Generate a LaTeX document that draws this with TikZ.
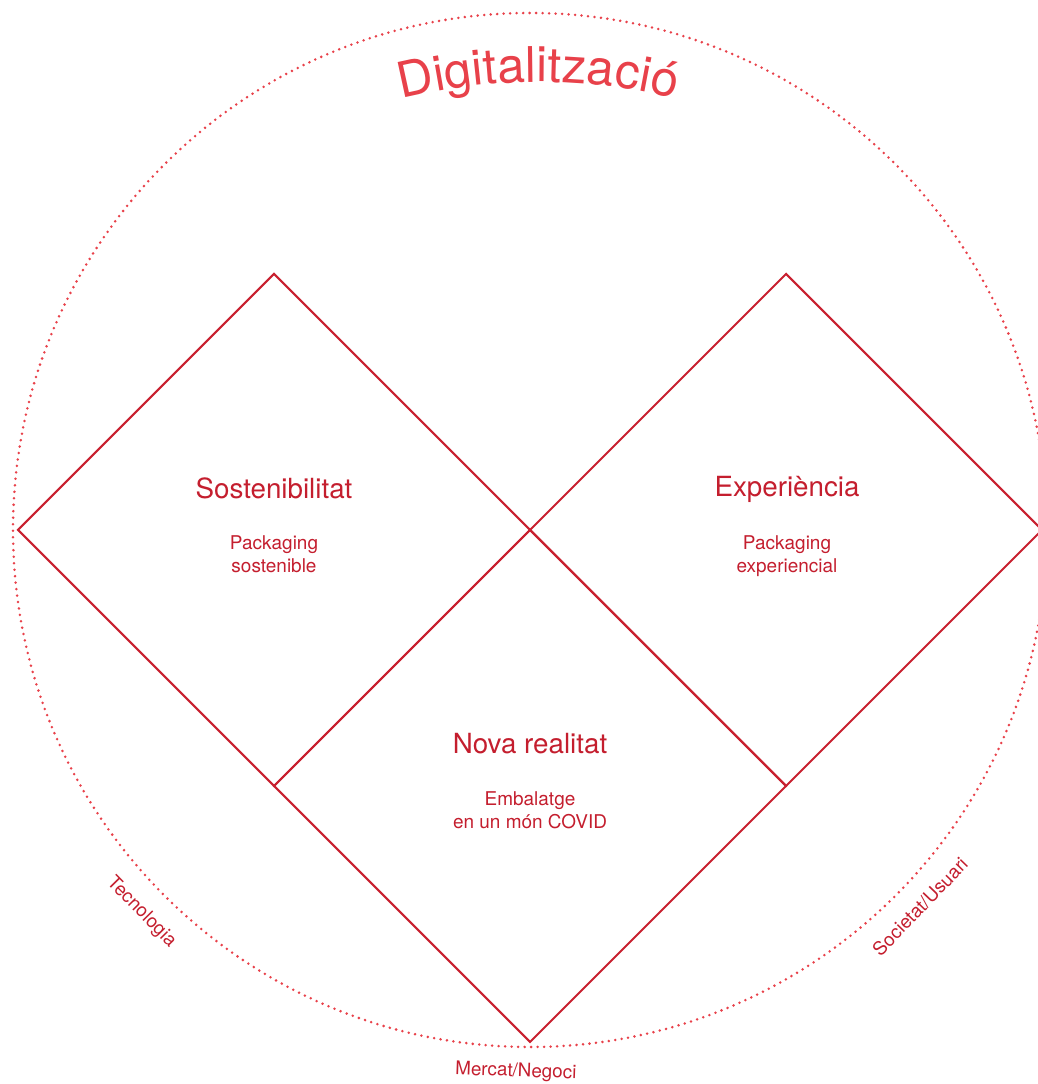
\documentclass[tikz,border=0pt]{standalone}
\usepackage{fontspec}
\setmainfont{TeX Gyre Heros}
\usetikzlibrary{decorations.text}
\definecolor{lineRed}{HTML}{C8202F}
\definecolor{dotRed}{HTML}{E8414A}
\definecolor{textRed}{HTML}{C41E2E}

\begin{document}
\begin{tikzpicture}[x=0.02cm,y=0.02cm,
    square/.style={draw=lineRed,line width=1.2pt,line join=miter},
    ring/.style={draw=dotRed,line width=1.6pt,line cap=round,dash pattern=on 0pt off 3.7pt},
    title/.style={text=textRed,font=\fontsize{15.8}{18}\selectfont},
    sub/.style={text=textRed,font=\fontsize{10.8}{13}\selectfont,align=center},
    axislabel/.style={text=textRed,font=\fontsize{10.7}{12}\selectfont}]
    \useasboundingbox (0,0) rectangle (1037,1084);

    \coordinate (O) at (530,554);
    \draw[ring] (O) circle (517);

    \coordinate (L) at (18,554);
    \coordinate (TL) at (274,810);
    \coordinate (X) at (530,554);
    \coordinate (TR) at (786,810);
    \coordinate (R) at (1042,554);
    \coordinate (BL) at (274,298);
    \coordinate (BR) at (786,298);
    \coordinate (B) at (530,42);

    \draw[square] (L) -- (TL) -- (X) -- (BL) -- cycle;
    \draw[square] (X) -- (TR) -- (R) -- (BR) -- cycle;
    \draw[square] (BL) -- (X) -- (BR) -- (B) -- cycle;

    \node[title] (sost) at (274,596) {Sostenibilitat};
    \node[sub] (sostsub) at (274,530) {Packaging\\sostenible};

    \node[title] (exp) at (787,595) {Experiència};
    \node[sub] (expsub) at (787,528) {Packaging\\experiencial};

    \node[title] (nova) at (530,340) {Nova realitat};
    \node[sub] (novasub) at (530,274) {Embalatge\\en un món COVID};

    \coordinate (digiC) at (538,442);
    \path[decorate,decoration={text along path,text align=center,text color=dotRed,
        text={|\fontsize{28}{30}\selectfont|Digitalització}}]
        (digiC) ++(122:560) arc[start angle=122,end angle=58,radius=560];

    \path (O) ++(224.5:545) node[axislabel,rotate=-45.5] (tecno) {Tecnologia};
    \path (O) ++(268.5:542) node[axislabel,rotate=-2] (mercat) {Mercat/Negoci};
    \path (O) ++(316:542) node[axislabel,rotate=46] (societat) {Societat/Usuari};
\end{tikzpicture}
\end{document}
